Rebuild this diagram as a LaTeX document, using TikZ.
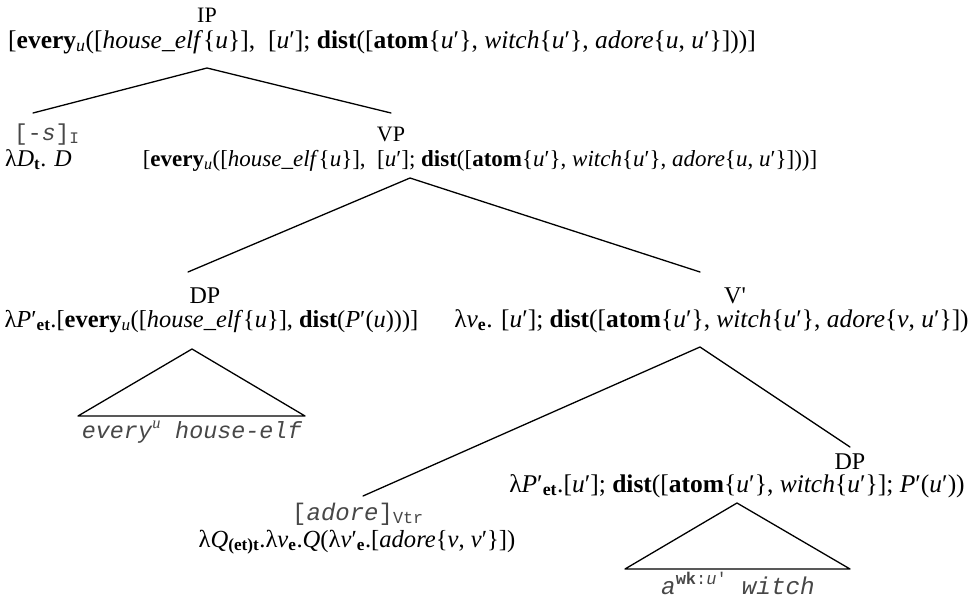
\documentclass[tikz,border=0pt]{standalone}
\usepackage{fontspec}
\setmainfont{Liberation Serif}
\setmonofont{Liberation Mono}
\newcommand{\vi}[1]{\textit{#1}}
\newcommand{\bw}[1]{\textbf{#1}}
\newcommand{\pr}{′}
\newcommand{\sbs}[1]{\textsubscript{#1}}
\newcommand{\ma}{\vi{u}}
\newcommand{\mb}{\vi{u}\pr}
\newcommand{\fs}[1]{\fontsize{#1}{#1}\selectfont}
\colorlet{objc}{black!72}
\tikzset{
  lbl/.style={anchor=base, inner sep=0pt},
  lblw/.style={anchor=base west, inner sep=0pt},
  branch/.style={line width=1.3pt, line cap=round, line join=round},
}
\begin{document}
\begin{tikzpicture}[x=1pt,y=-1pt]
\useasboundingbox (0,0) rectangle (970,605);
% IP
\node[lbl, font=\fs{22}] (ip) at (207,22) {IP};
\node[lblw, font=\fs{25.5}] (ipf) at (8,48) {[\bw{every}\sbs{\vi{u}}([\vi{house\_elf}\{\ma\}],\ \ [\mb]; \bw{dist}([\bw{atom}\{\mb\}, \vi{witch}\{\mb\}, \vi{adore}\{\ma, \mb\}]))]};
\coordinate (ipt) at (207,68);
\coordinate (ipl) at (33,113);
\coordinate (ipr) at (391,113);
\draw[branch] (ipl) -- (ipt) -- (ipr);
% I
\node[lblw, font=\fs{23}, text=objc] (inode) at (14,140) {\texttt{[-\vi{s}]}\sbs{\texttt{I}}};
\node[lblw, font=\fs{24}] (if) at (5,166) {λ\vi{D}\sbs{\bw{t}}. \vi{D}};
% VP
\node[lbl, font=\fs{22}] (vp) at (391,141) {VP};
\node[lbl, font=\fs{23}] (vpf) at (480,166) {[\bw{every}\sbs{\vi{u}}([\vi{house\_elf}\{\ma\}],\ \ [\mb]; \bw{dist}([\bw{atom}\{\mb\}, \vi{witch}\{\mb\}, \vi{adore}\{\ma, \mb\}]))]};
\coordinate (vpt) at (410,178);
\coordinate (vpl) at (188,272);
\coordinate (vpr) at (700,272);
\draw[branch] (vpl) -- (vpt) -- (vpr);
% DP left
\node[lbl, font=\fs{24}] (dp) at (205,303) {DP};
\node[lbl, font=\fs{24.4}] (dpf) at (211.5,327) {λ\vi{P}\pr\sbs{\bw{et}}.[\bw{every}\sbs{\vi{u}}([\vi{house\_elf}\{\ma\}], \bw{dist}(\vi{P}\pr(\ma)))]};
\coordinate (dpt) at (192,349);
\coordinate (dpl) at (78,416);
\coordinate (dpr) at (305,416);
\draw[branch] (dpt) -- (dpl) -- (dpr) -- cycle;
\node[lbl, font=\fs{23.4}, text=objc] (dpw) at (192,438) {\texttt{\vi{every}\textsuperscript{\rmfamily\itshape u} \vi{house-elf}}};
% V'
\node[lbl, font=\fs{24}] (vb) at (735,303) {V\textquotesingle};
\node[lbl, font=\fs{25.4}] (vbf) at (711.5,327) {λ\vi{v}\sbs{\bw{e}}. [\mb]; \bw{dist}([\bw{atom}\{\mb\}, \vi{witch}\{\mb\}, \vi{adore}\{\vi{v}, \mb\}])};
\coordinate (vbt) at (700,347);
\coordinate (vbl) at (363,496);
\coordinate (vbr) at (850,447);
\draw[branch] (vbl) -- (vbt) -- (vbr);
% V
\node[lbl, font=\fs{24}, text=objc] (v) at (358,520) {\texttt{[\vi{adore}]}\sbs{\texttt{Vtr}}};
\node[lbl, font=\fs{24.6}] (vf) at (357,547) {λ\vi{Q}\sbs{\bw{(et)t}}.λ\vi{v}\sbs{\bw{e}}.\vi{Q}(λ\vi{v}\pr\sbs{\bw{e}}.[\vi{adore}\{\vi{v}, \vi{v}\pr\}])};
% DP right
\node[lbl, font=\fs{24}] (dp2) at (850,469) {DP};
\node[lbl, font=\fs{25.5}] (dp2f) at (737,492) {λ\vi{P}\pr\sbs{\bw{et}}.[\mb]; \bw{dist}([\bw{atom}\{\mb\}, \vi{witch}\{\mb\}]; \vi{P}\pr(\mb))};
\coordinate (dp2t) at (737,503);
\coordinate (dp2l) at (625,569);
\coordinate (dp2r) at (850,569);
\draw[branch] (dp2t) -- (dp2l) -- (dp2r) -- cycle;
\node[lbl, font=\fs{24.3}, text=objc] (dp2w) at (738,594) {\texttt{\vi{a}\textsuperscript{\bw{wk}:\vi{u}'} \vi{witch}}};
\end{tikzpicture}
\end{document}
